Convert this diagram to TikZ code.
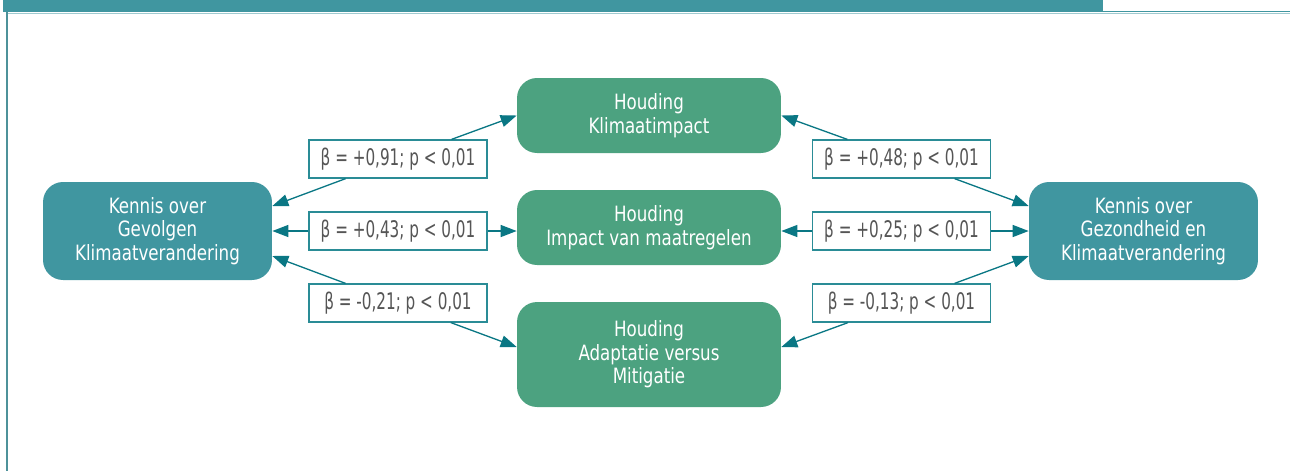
\documentclass[tikz,border=0pt]{standalone}
\usepackage{fontspec}
\setmainfont{DejaVu Sans Condensed}[FakeStretch=0.88]
\newfontfamily\betafont{DejaVu Sans Condensed}[FakeStretch=0.74]
\usetikzlibrary{arrows.meta}
\definecolor{kennisteal}{HTML}{4096A0}
\definecolor{houdinggreen}{HTML}{4CA280}
\definecolor{pijlteal}{HTML}{0A7784}
\definecolor{randteal}{HTML}{2A8C96}
\definecolor{tekstgrijs}{HTML}{555555}

\begin{document}
\begin{tikzpicture}[x=0.02cm, y=-0.02cm,
  kennis/.style={fill=kennisteal, rounded corners=0.4cm, text=white, align=center,
    minimum width=4.58cm, minimum height=1.96cm, inner sep=0pt,
    font=\fontsize{12}{13.4}\selectfont},
  houding/.style={fill=houdinggreen, rounded corners=0.4cm, text=white, align=center,
    minimum width=5.28cm, minimum height=1.5cm, inner sep=0pt,
    font=\fontsize{12}{13.4}\selectfont},
  beta/.style={draw=randteal, line width=0.7pt, fill=white, text=tekstgrijs,
    minimum width=3.56cm, minimum height=0.76cm, inner sep=0pt,
    font=\betafont\fontsize{13}{14}\selectfont},
  pijl/.style={pijlteal, line width=0.75pt, -{Triangle[length=0.32cm,width=0.24cm]}}]
  \useasboundingbox (0,0) rectangle (1290,471);

  % kader
  \fill[kennisteal] (3,0) rectangle (1103,12);
  \draw[kennisteal!50, line width=0.5pt] (7,13.5) -- (1290,13.5);
  \draw[kennisteal, line width=0.8pt] (1103,11.5) -- (1290,11.5);
  \draw[kennisteal!80!gray, line width=0.6pt] (7,12) -- (7,471);

  % knopen
  \node [kennis] (kgk) at ( 157.5, 231) {Kennis over\\Gevolgen\\Klimaatverandering};
  \node [kennis] (kgz) at (1143.5, 231) {Kennis over\\Gezondheid en\\Klimaatverandering};

  \node [houding] (hki) at (649, 115.5) {Houding\\Klimaatimpact};
  \node [houding] (him) at (649, 227.5) {Houding\\Impact van maatregelen};
  \node [houding, minimum height=2.1cm] (ham) at (649, 354.5) {Houding\\Adaptatie versus\\Mitigatie};

  % coefficienten links
  \node [beta] (b1) at (398, 159) {β = +0,91; p < 0,01};
  \path [pijl] (b1) edge (hki.west);
  \path [pijl] (b1) edge ([yshift=0.5cm]kgk.east);
  \node [beta] (b2) at (398, 231) {β = +0,43; p < 0,01};
  \path [pijl] (b2) edge (b2 -| him.west);
  \path [pijl] (b2) edge (kgk.east);
  \node [beta] (b3) at (398, 303) {β = -0,21; p < 0,01};
  \path [pijl] (b3) edge ([yshift=0.15cm]ham.west);
  \path [pijl] (b3) edge ([yshift=-0.5cm]kgk.east);

  % coefficienten rechts
  \node [beta] (b4) at (901.5, 159) {β = +0,48; p < 0,01};
  \path [pijl] (b4) edge (hki.east);
  \path [pijl] (b4) edge ([yshift=0.5cm]kgz.west);
  \node [beta] (b5) at (901.5, 231) {β = +0,25; p < 0,01};
  \path [pijl] (b5) edge (b5 -| him.east);
  \path [pijl] (b5) edge (kgz.west);
  \node [beta] (b6) at (901.5, 303) {β = -0,13; p < 0,01};
  \path [pijl] (b6) edge ([yshift=0.15cm]ham.east);
  \path [pijl] (b6) edge ([yshift=-0.5cm]kgz.west);
\end{tikzpicture}
\end{document}
